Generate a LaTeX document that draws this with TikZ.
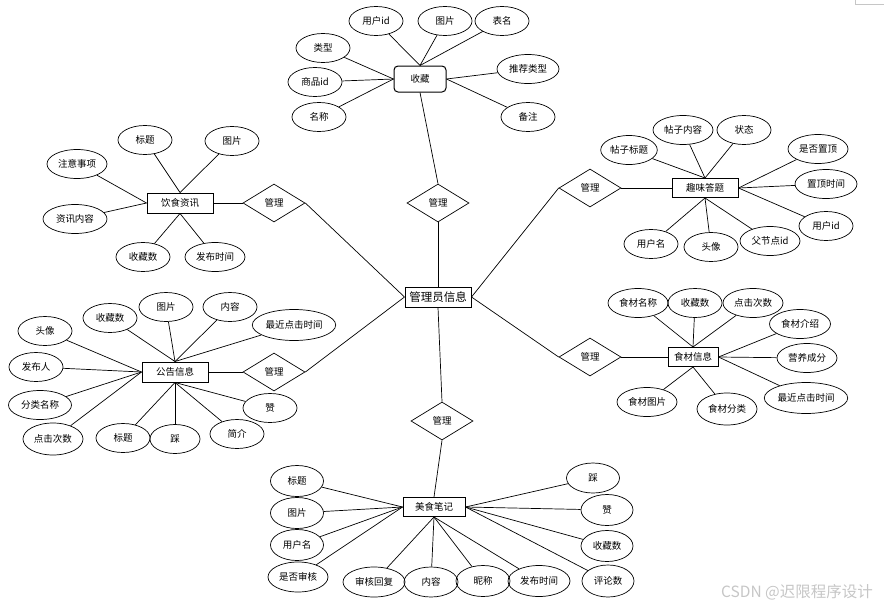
\documentclass[tikz,border=0pt]{standalone}
\usepackage{fontspec}
\newfontfamily\cjk{Noto Sans CJK SC}
\usetikzlibrary{shapes.geometric}
\begin{document}
\begin{tikzpicture}[x=1pt,y=-1pt,every node/.style={inner sep=1pt,font=\cjk\fontsize{9.5}{11}\selectfont}]
\tikzstyle{attr}=[draw,ellipse,line width=0.7pt,minimum width=54pt,minimum height=29pt]
\tikzstyle{ent}=[draw,rectangle,line width=1pt,minimum height=19pt]
\tikzstyle{rel}=[draw,diamond,line width=0.7pt,inner sep=0pt,minimum width=62pt,minimum height=38pt]
\tikzstyle{link}=[draw,line width=0.7pt]
\useasboundingbox (0,0) rectangle (884,611);
\draw[gray!45,line width=0.6pt](855,0)--(855,4)--(884,4);

\node[ent,font=\cjk\fontsize{11.5}{13}\selectfont,minimum width=66pt,minimum height=20pt](admin) at (438,297){管理员信息};

\node[ent,rounded corners=4pt,minimum width=52pt,minimum height=26pt](c0) at (420,79){收藏};
\node[attr](c1) at (376,21){用户id};
\node[attr](c2) at (445,21){图片};
\node[attr](c3) at (502,21){表名};
\node[attr](c4) at (323,48){类型};
\node[attr](c5) at (315,82){商品id};
\node[attr](c6) at (319,117){名称};
\node[attr,minimum width=62pt](c7) at (528,69){推荐类型};
\node[attr](c8) at (528,117){备注};
\node[rel](r1) at (438,203){管理};

\node[ent,minimum width=66pt](q0) at (705,188){趣味答题};
\node[attr,minimum width=56pt](q1) at (629,150){帖子标题};
\node[attr,minimum width=60pt](q2) at (683,130){帖子内容};
\node[attr](q3) at (744,130){状态};
\node[attr,minimum width=60pt](q4) at (818,149){是否置顶};
\node[attr,minimum width=62pt](q5) at (826,184){置顶时间};
\node[attr](q6) at (826,226){用户id};
\node[attr](q7) at (651,244){用户名};
\node[attr](q8) at (711,247){头像};
\node[attr,minimum width=60pt](q9) at (770,241){父节点id};
\node[rel](r2) at (590,188){管理};

\node[ent,minimum width=66pt,minimum height=20pt](y0) at (180,203){饮食资讯};
\node[attr](y1) at (145,140){标题};
\node[attr](y2) at (232,141){图片};
\node[attr,minimum width=60pt](y3) at (77,164){注意事项};
\node[attr,minimum width=64pt](y4) at (75,219){资讯内容};
\node[attr](y5) at (143,257){收藏数};
\node[attr,minimum width=60pt](y6) at (215,257){发布时间};
\node[rel](r3) at (274,203){管理};

\node[ent,minimum width=66pt,minimum height=20pt](g0) at (175,372){公告信息};
\node[attr](g1) at (45,331){头像};
\node[attr](g2) at (110,318){收藏数};
\node[attr](g3) at (166,307){图片};
\node[attr](g4) at (230,307){内容};
\node[attr,minimum width=80pt,minimum height=31pt](g5) at (294,325){最近点击时间};
\node[attr](g6) at (36,367){发布人};
\node[attr,minimum width=63pt](g7) at (40,405){分类名称};
\node[attr,minimum width=60pt,minimum height=32pt](g8) at (53,439){点击次数};
\node[attr](g9) at (123,438){标题};
\node[attr,minimum width=50pt](g10) at (175,439){踩};
\node[attr](g11) at (237,434){简介};
\node[attr](g12) at (270,408){赞};
\node[rel](r4) at (274,372){管理};

\node[ent,minimum width=50pt](s0) at (693,357){食材信息};
\node[attr,minimum width=60pt](s1) at (638,303){食材名称};
\node[attr](s2) at (695,303){收藏数};
\node[attr,minimum width=60pt](s3) at (753,303){点击次数};
\node[attr,minimum width=61pt](s4) at (800,324){食材介绍};
\node[attr,minimum width=60pt](s5) at (807,358){营养成分};
\node[attr,minimum width=80pt,minimum height=31pt](s6) at (806,398){最近点击时间};
\node[attr,minimum width=60pt](s7) at (647,402){食材图片};
\node[attr,minimum width=60pt,minimum height=32pt](s8) at (727,409){食材分类};
\node[rel](r5) at (590,357){管理};

\node[ent,minimum width=62pt](m0) at (434,507){美食笔记};
\node[attr,minimum width=53pt,minimum height=31pt](m1) at (297,481){标题};
\node[attr,minimum width=53pt,minimum height=31pt](m2) at (297,513){图片};
\node[attr,minimum width=53pt,minimum height=31pt](m3) at (297,545){用户名};
\node[attr,minimum width=60pt,minimum height=30pt](m4) at (298,577){是否审核};
\node[attr,minimum width=62pt,minimum height=30pt](m5) at (374,582){审核回复};
\node[attr,minimum height=30pt](m6) at (431,582){内容};
\node[attr,minimum height=31pt](m7) at (483,581){昵称};
\node[attr,minimum width=62pt,minimum height=31pt](m8) at (539,581){发布时间};
\node[attr,minimum width=53pt,minimum height=30pt](m9) at (593,478){踩};
\node[attr,minimum width=52pt,minimum height=31pt](m10) at (607,510){赞};
\node[attr,minimum width=52pt,minimum height=31pt](m11) at (607,546){收藏数};
\node[attr,minimum width=52pt,minimum height=32pt](m12) at (608,581){评论数};
\node[rel](r6) at (442,421){管理};

\node[text=gray!45,font=\fontsize{15.5}{18}\selectfont\cjk](wm) at (797,592){CSDN @迟限程序设计};

\path[link](c0.north)--(c1);
\path[link](c0.north)--(c2);
\path[link](c0.north)--(c3);
\path[link](c0.west)--(c4);
\path[link](c0.west)--(c5);
\path[link](c0.west)--(c6);
\path[link](c0.east)--(c7);
\path[link](c0.east)--(c8);
\path[link](c0.south)--(r1.north);
\path[link](r1.south)--(admin.north);

\path[link](q0.north)--(q1);
\path[link](q0.north)--(q2);
\path[link](q0.north)--(q3);
\path[link](q0.east)--(q4);
\path[link](q0.east)--(q5);
\path[link](q0.east)--(q6);
\path[link](q0.south)--(q7);
\path[link](q0.south)--(q8);
\path[link](q0.south)--(q9);
\path[link](admin.east)--(r2.west);
\path[link](r2.east)--(q0.west);

\path[link](y0.north)--(y1);
\path[link](y0.north)--(y2);
\path[link](y0.west)--(y3);
\path[link](y0.west)--(y4);
\path[link](y0.south)--(y5);
\path[link](y0.south)--(y6);
\path[link](y0.east)--(r3.west);
\path[link](r3.east)--(admin.west);

\path[link](g0.west)--(g1);
\path[link](g0.north)--(g2);
\path[link](g0.north)--(g3);
\path[link](g0.north)--(g4);
\path[link](g0.north)--(g5);
\path[link](g0.west)--(g6);
\path[link](g0.west)--(g7);
\path[link](g0.west)--(g8);
\path[link](g0.south)--(g9);
\path[link](g0.south)--(g10);
\path[link](g0.south)--(g11);
\path[link](g0.south)--(g12);
\path[link](g0.east)--(r4.west);
\path[link](r4.east)--(admin.west);

\path[link](s0.north)--(s1);
\path[link](s0.north)--(s2);
\path[link](s0.north)--(s3);
\path[link](s0.east)--(s4);
\path[link](s0.east)--(s5);
\path[link](s0.east)--(s6);
\path[link](s0.south)--(s7);
\path[link](s0.south)--(s8);
\path[link](admin.east)--(r5.west);
\path[link](r5.east)--(s0.west);

\path[link](m0.west)--(m1);
\path[link](m0.west)--(m2);
\path[link](m0.west)--(m3);
\path[link](m0.west)--(m4);
\path[link](m0.south)--(m5);
\path[link](m0.south)--(m6);
\path[link](m0.south)--(m7);
\path[link](m0.south)--(m8);
\path[link](m0.east)--(m9);
\path[link](m0.east)--(m10);
\path[link](m0.east)--(m11);
\path[link](m0.east)--(m12);
\path[link](admin.south)--(r6.north);
\path[link](r6.south)--(m0.north);
\end{tikzpicture}
\end{document}
